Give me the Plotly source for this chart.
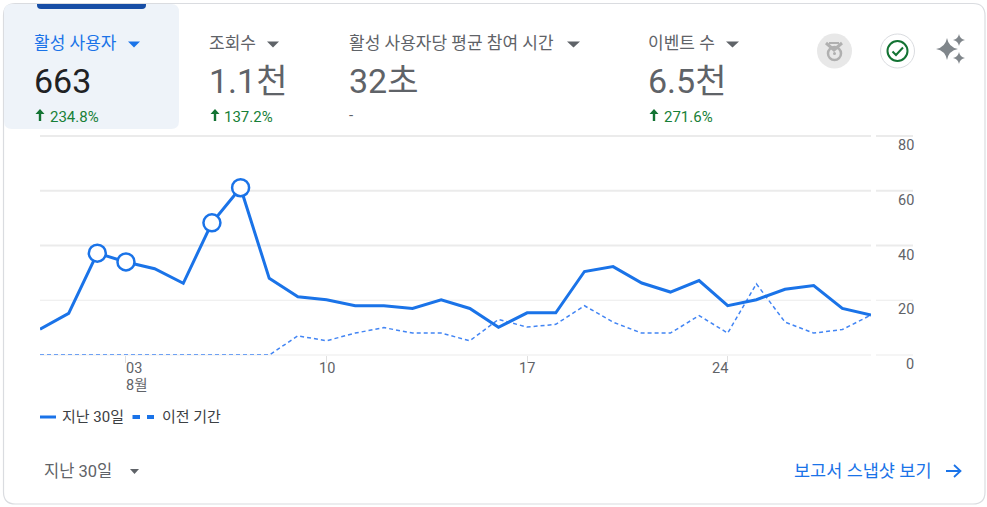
import pandas as pd
import plotly.graph_objects as go

# Data
dates = pd.date_range('2024-07-31', periods=30).strftime('%Y-%m-%d').tolist()
last_30 = [9.4, 15.2, 37.2, 34, 31.5, 26.2, 48.3, 61.1, 28, 21.3,
           20.2, 18, 18, 17, 20.2, 17, 10.1, 15.4, 15.4, 30.5,
           32.3, 26.3, 23, 27.2, 18, 20.2, 24, 25.4, 17, 14.6]
previous = [0, 0, 0, 0, 0, 0, 0, 0, 0, 7,
            5.2, 8, 10, 8, 8, 5.2, 13, 10.2, 11.2, 18,
            12, 8, 8, 14.4, 8, 26, 12, 8, 9.3, 14.6]
marked_days = [2, 3, 6, 7]
y_ticks = [0, 20, 40, 60, 80]
x_ticks = ['2024-08-03', '2024-08-10', '2024-08-17', '2024-08-24']
x_tick_labels = ['03', '10', '17', '24']
x_tick_anchors = ['left', 'center', 'center', 'right']

metric_names = ['활성 사용자', '조회수', '활성 사용자당 평균 참여 시간', '이벤트 수']
metric_values = ['663', '1.1천', '32초', '6.5천']
metric_changes = ['234.8%', '137.2%', '-', '271.6%']

BLUE = '#1a73e8'
GREY = '#5f6368'
GREEN = '#188038'
FONT = "Roboto, 'Noto Sans CJK KR', sans-serif"

# Plot area in page pixels
LEFT, RIGHT, TOP, BOTTOM = 40, 871, 136, 355
W, H = 987, 507


def fx(x):
    return (x - LEFT) / (RIGHT - LEFT)


def fy(y):
    return (BOTTOM - y) / (BOTTOM - TOP)


def pt(x, y):
    return f'{fx(x):.5f},{fy(y):.5f}'


def path(cmds):
    # cmds: list of (letter, x, y, ...) in page pixels
    out = []
    for c in cmds:
        if c[0] == 'Z':
            out.append('Z')
        else:
            vals = c[1:]
            pairs = [pt(vals[i], vals[i + 1]) for i in range(0, len(vals), 2)]
            out.append(c[0] + ' ' + ' '.join(pairs))
    return ' '.join(out)


def round_rect(x0, y0, x1, y1, r):
    return path([('M', x0 + r, y0), ('L', x1 - r, y0), ('Q', x1, y0, x1, y0 + r),
                 ('L', x1, y1 - r), ('Q', x1, y1, x1 - r, y1),
                 ('L', x0 + r, y1), ('Q', x0, y1, x0, y1 - r),
                 ('L', x0, y0 + r), ('Q', x0, y0, x0 + r, y0), ('Z',)])


def circle(cx, cy, r, fill='rgba(0,0,0,0)', color=None, width=0):
    return dict(type='circle', xref='paper', yref='paper', x0=fx(cx - r), x1=fx(cx + r),
                y0=fy(cy + r), y1=fy(cy - r), fillcolor=fill,
                line=dict(color=color, width=width) if color else dict(width=0))


def sparkle(cx, cy, r):
    return path([('M', cx, cy - r), ('Q', cx + r * 0.15, cy - r * 0.15, cx + r, cy),
                 ('Q', cx + r * 0.15, cy + r * 0.15, cx, cy + r),
                 ('Q', cx - r * 0.15, cy + r * 0.15, cx - r, cy),
                 ('Q', cx - r * 0.15, cy - r * 0.15, cx, cy - r), ('Z',)])


def triangle(x0, x1, y0, y1):
    return path([('M', x0, y0), ('L', x1, y0), ('L', (x0 + x1) / 2, y1), ('Z',)])


def up_arrow(cx, y0, y1):
    return path([('M', cx, y0), ('L', cx + 4.5, y0 + 5), ('L', cx + 1.2, y0 + 5), ('L', cx + 1.2, y1),
                 ('L', cx - 1.2, y1), ('L', cx - 1.2, y0 + 5), ('L', cx - 4.5, y0 + 5), ('Z',)])


def filled(d, color, layer='above'):
    return dict(type='path', xref='paper', yref='paper', path=d, fillcolor=color,
                line=dict(width=0), layer=layer)


def stroked(d, color, width, fill='rgba(0,0,0,0)', layer='above'):
    return dict(type='path', xref='paper', yref='paper', path=d, fillcolor=fill,
                line=dict(color=color, width=width), layer=layer)


def label(text, x, y, size, color=GREY, anchor='left'):
    return dict(text=text, xref='paper', yref='paper', x=fx(x), y=fy(y), xanchor=anchor, yanchor='middle',
                showarrow=False, borderpad=0, borderwidth=0, font=dict(family=FONT, size=size, color=color))


fig = go.Figure()
fig.add_trace(go.Scatter(x=dates, y=previous, name='이전 기간', mode='lines', cliponaxis=False,
                         line=dict(color='#4285f4', width=1.5, dash='4px,3px')))
fig.add_trace(go.Scatter(x=dates, y=last_30, name='지난 30일', mode='lines',
                         line=dict(color=BLUE, width=3)))
fig.add_trace(go.Scatter(x=[dates[i] for i in marked_days], y=[last_30[i] for i in marked_days],
                         mode='markers', showlegend=False, hoverinfo='skip',
                         marker=dict(size=17, color='white', line=dict(color=BLUE, width=2.5))))

shapes = [
    stroked(round_rect(3.5, 3.5, 985, 504, 12), '#dadce0', 1.2, fill='white', layer='below'),
    filled(round_rect(4, 4, 179, 129, 8), '#eef3f9', layer='below'),
    filled(path([('M', 37, 4), ('L', 146, 4), ('L', 146, 5), ('Q', 146, 9, 142, 9),
                 ('L', 41, 9), ('Q', 37, 9, 37, 5), ('Z',)]), '#174ea6'),
]

# Gridlines, with the separate stub under the value axis
for v in y_ticks:
    width = 2 if v >= 40 else 1
    for x0, x1 in [(LEFT, RIGHT), (876, 913)]:
        shapes.append(dict(type='line', xref='paper', yref='paper', x0=fx(x0), x1=fx(x1), y0=v / 80, y1=v / 80,
                           layer='below', line=dict(color='#ebebeb', width=width)))

# Dropdown triangles
for x0, x1, color in [(128, 140, BLUE), (267, 279, GREY), (567, 580, GREY), (726, 739, GREY)]:
    shapes.append(filled(triangle(x0, x1, 41.5, 47.5), color))
shapes.append(filled(triangle(130, 139, 469, 474), GREY))

# Up arrows on the change figures
for cx in [40, 215, 654]:
    shapes.append(filled(up_arrow(cx, 109, 121), '#137333'))

# Medal badge
shapes.append(circle(834.5, 51, 17.5, fill='#e8e8e8'))
shapes.append(stroked(path([('M', 826, 43), ('L', 834, 50), ('L', 842, 43)]), '#b0b0b0', 3))
shapes.append(stroked(path([('M', 829, 43), ('L', 839, 43)]), '#b0b0b0', 2))
shapes.append(circle(834.5, 53.5, 6.5, color='#b0b0b0', width=2.5))
shapes.append(circle(834.5, 53.5, 1.5, fill='#b0b0b0'))

# Check badge
shapes.append(circle(897.5, 51, 17, fill='white', color='#dadce0', width=1))
shapes.append(circle(897.5, 51, 10, color='#137333', width=2))
shapes.append(stroked(path([('M', 892.5, 51.5), ('L', 896, 55), ('L', 903, 47.5)]), '#137333', 2))

# Sparkle
shapes.append(filled(sparkle(947, 49, 11), '#80868b'))
shapes.append(filled(sparkle(959, 40, 6), '#80868b'))
shapes.append(filled(sparkle(959, 58, 6), '#80868b'))

# Legend keys
shapes.append(dict(type='line', xref='paper', yref='paper', x0=fx(40), x1=fx(56), y0=fy(417), y1=fy(417),
                   line=dict(color=BLUE, width=3)))
for x0, x1 in [(132.5, 140), (147, 154)]:
    shapes.append(dict(type='line', xref='paper', yref='paper', x0=fx(x0), x1=fx(x1), y0=fy(417), y1=fy(417),
                       line=dict(color=BLUE, width=4)))

# Report link arrow
shapes.append(stroked(path([('M', 946, 471), ('L', 960, 471), ('M', 954, 465), ('L', 960.5, 471), ('L', 954, 477)]),
                      BLUE, 1.8))

annotations = []
metric_x = [34, 209, 349, 648]
for i, name in enumerate(metric_names):
    annotations.append(label(name, metric_x[i], 43, 17, BLUE if i == 0 else GREY))
    annotations.append(label(metric_values[i], metric_x[i], 81, 34, '#202124' if i == 0 else GREY))
change_x = [50, 224, 349, 664]
for i, change in enumerate(metric_changes):
    annotations.append(label(change, change_x[i], 115 if change == '-' else 117, 15, GREY if change == '-' else GREEN))

# Axis labels sit below their gridlines
for v in y_ticks:
    annotations.append(dict(text=str(v), xref='paper', yref='y', x=fx(914), y=v, yshift=-9.5, xanchor='right',
                            yanchor='middle', showarrow=False, borderpad=0, borderwidth=0,
                            font=dict(family=FONT, size=14.5, color=GREY)))
for d, t, a in zip(x_ticks, x_tick_labels, x_tick_anchors):
    annotations.append(dict(text=t, xref='x', yref='paper', x=d, y=fy(368), xanchor=a, yanchor='middle',
                            showarrow=False, borderpad=0, borderwidth=0,
                            font=dict(family=FONT, size=14.5, color=GREY)))
annotations.append(dict(text='8월', xref='x', yref='paper', x=x_ticks[0], y=fy(385), xanchor='left', yanchor='middle',
                        showarrow=False, borderpad=0, borderwidth=0,
                        font=dict(family=FONT, size=14.5, color=GREY)))

annotations.append(label('지난 30일', 62, 417, 15, '#3c4043'))
annotations.append(label('이전 기간', 162, 417, 15, '#3c4043'))
annotations.append(label('지난 30일', 44, 471, 16.5))
annotations.append(label('보고서 스냅샷 보기', 794, 471, 17.5, BLUE))

fig.update_layout(
    width=W, height=H,
    margin=dict(l=LEFT, r=W - RIGHT, t=TOP, b=H - BOTTOM, pad=0),
    paper_bgcolor='white', plot_bgcolor='rgba(0,0,0,0)',
    showlegend=False,
    shapes=shapes, annotations=annotations,
    xaxis=dict(range=[dates[0], dates[-1]], tickmode='array', tickvals=x_ticks, ticktext=[''] * 4,
               showgrid=False, zeroline=False, showline=False,
               ticks='outside', ticklen=7, tickwidth=1, tickcolor='#e0e0e0'),
    yaxis=dict(range=[0, 80], tickvals=y_ticks, showticklabels=False, showgrid=False, zeroline=False),
)

fig.write_html('out.html', config=dict(displayModeBar=False),
               post_script="document.body.style.margin='0';document.body.style.overflow='hidden';")
